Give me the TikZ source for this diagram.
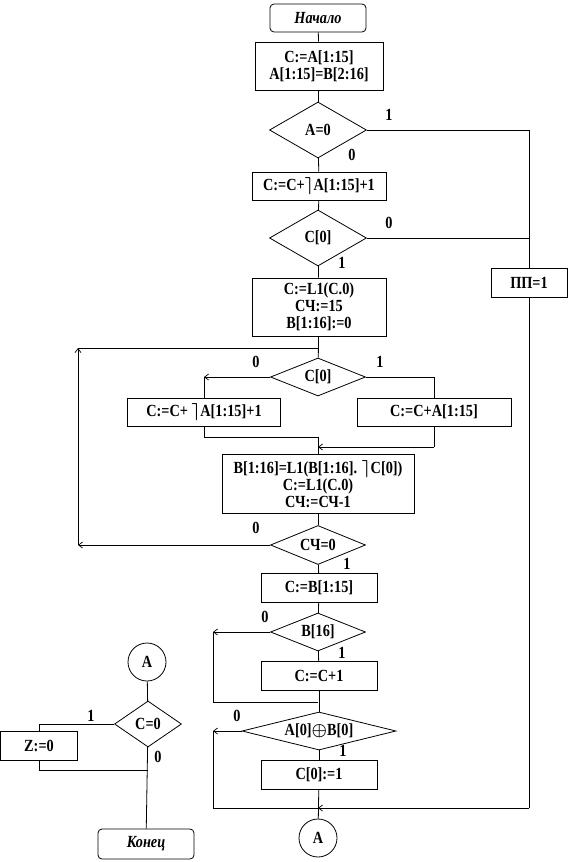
\documentclass[tikz,border=0pt]{standalone}
\usepackage{amsmath}
\usepackage{fontspec}
\setmainfont{Liberation Serif}[FakeStretch=0.84]
\usetikzlibrary{shapes.geometric,arrows.meta}
\begin{document}
\begin{tikzpicture}[x=1pt,y=-1pt,line width=0.8pt,
  every node/.style={font=\fontsize{17}{17}\selectfont\bfseries,inner sep=0pt},
  blk/.style={draw,rectangle,align=center},
  term/.style={draw,rectangle,rounded corners=4pt,font=\fontsize{17}{17}\selectfont\bfseries\itshape},
  dec/.style={draw,diamond},
  conn/.style={draw,circle,minimum size=38pt},
  lbl/.style={font=\fontsize{17}{17}\selectfont\bfseries},
  arr/.style={-{Straight Barb[length=4pt,width=6pt,line width=0.7pt]}}]
\useasboundingbox (0,0) rectangle (571,862);
% nodes
\node[term,minimum width=96pt,minimum height=28pt] (start) at (318,18) {Начало};
\node[blk,minimum width=128pt,minimum height=48pt] (b1) at (319,66) {C:=A[1:15]\\A[1:15]=B[2:16]};
\node[dec,aspect=1.73,minimum width=97pt,minimum height=56pt] (d1) at (318,130) {A=0};
\node[blk,minimum width=134pt,minimum height=28pt] (b2) at (319,186) {C:=C+$\boldsymbol{\rceil}$A[1:15]+1};
\node[dec,aspect=1.73,minimum width=97pt,minimum height=56pt] (d2) at (318,238) {C[0]};
\node[blk,minimum width=76pt,minimum height=29pt] (pp) at (529,283) {ПП=1};
\node[blk,minimum width=134pt,minimum height=58pt] (b3) at (319,307) {C:=L1(C.0)\\СЧ:=15\\B[1:16]:=0};
\node[dec,aspect=2.5,minimum width=95pt,minimum height=38pt] (d3) at (318,377) {C[0]};
\node[blk,minimum width=153pt,minimum height=28pt] (bl) at (204,412) {C:=C+ $\boldsymbol{\rceil}$A[1:15]+1};
\node[blk,minimum width=154pt,minimum height=28pt] (br) at (434,412) {C:=C+A[1:15]};
\node[blk,minimum width=192pt,minimum height=59pt] (b4) at (318,484) {B[1:16]=L1(B[1:16]. $\boldsymbol{\rceil}$C[0])\\C:=L1(C.0)\\СЧ:=СЧ-1};
\node[dec,aspect=2.5,minimum width=95pt,minimum height=39pt] (d4) at (318,545) {СЧ=0};
\node[blk,minimum width=116pt,minimum height=29pt] (b5) at (319,588) {C:=B[1:15]};
\node[dec,aspect=2.5,minimum width=95pt,minimum height=38pt] (d5) at (318,632) {B[16]};
\node[blk,minimum width=116pt,minimum height=29pt] (b6) at (319,676) {C:=C+1};
\node[dec,aspect=4,minimum width=154pt,minimum height=38pt] (d6) at (319,731) {A[0]$\boldsymbol{\oplus}$B[0]};
\node[blk,minimum width=116pt,minimum height=29pt] (b7) at (319,775) {C[0]:=1};
\node[conn] (ca) at (318,838) {A};
\node[conn] (cb) at (147,662) {A};
\node[dec,aspect=1.45,minimum width=67pt,minimum height=46pt] (d7) at (148,724) {C=0};
\node[blk,minimum width=77pt,minimum height=29pt] (bz) at (39,746) {Z:=0};
\node[term,minimum width=96pt,minimum height=30pt] (fin) at (146,844) {Конец};
% junction coordinates
\coordinate (jtop) at (318,348);
\coordinate (lt) at (78,348);
\coordinate (lb) at (78,545);
\coordinate (jl) at (204,437);
\coordinate (jm) at (318,437);
\coordinate (jr) at (434,447);
\coordinate (jm2) at (318,447);
\coordinate (j5) at (318,702);
\coordinate (j5l) at (213,702);
\coordinate (j6) at (318,808);
\coordinate (j6l) at (213,808);
\coordinate (ppb) at (529,808);
\coordinate (j7) at (148,770);
\coordinate (j7l) at (39,770);
% connectors
\draw (start) -- (b1);
\draw (b1) -- (d1);
\draw (d1) -- (b2);
\draw (b2) -- (d2);
\draw (d1.east) -- (pp.north |- d1.east) -- (pp.north);
\draw (d2.east) -- (pp.north |- d2.east);
\draw (d2) -- (b3);
\draw (b3) -- (d3);
\draw[arr] (d3.west) -- (bl.north |- d3.west);
\draw (bl.north |- d3.west) -- (bl.north);
\draw (d3.east) -| (br.north);
\draw (bl.south) -- (jl) -- (jm);
\draw (br.south) -- (jr);
\draw[arr] (jr) -- (jm2);
\draw (jm) -- (b4.north);
\draw (b4) -- (d4);
\draw[arr] (d4.west) -- (lb);
\draw[arr] (lb) -- (lt);
\draw (lt) -- (jtop);
\draw (d4) -- (b5);
\draw (b5) -- (d5);
\draw[arr] (d5.west) -- (d5.west -| j5l);
\draw (d5.west -| j5l) -- (j5l) -- (j5);
\draw (d5) -- (b6);
\draw (b6) -- (d6);
\draw[arr] (d6.west) -- (d6.west -| j6l);
\draw (d6.west -| j6l) -- (j6l) -- (j6);
\draw (d6) -- (b7);
\draw (b7) -- (ca);
\draw (pp.south) -- (ppb);
\draw[arr] (ppb) -- (j6);
\draw (cb) -- (d7);
\draw (d7.west) -| (bz.north);
\draw (bz.south) -- (j7l) -- (j7);
\draw (d7) -- (fin);
% labels
\node[lbl] (l1) at (389,115) {1};
\node[lbl] (l2) at (352,155) {0};
\node[lbl] (l3) at (389,223) {0};
\node[lbl] (l4) at (342,263) {1};
\node[lbl] (l5) at (256,362) {0};
\node[lbl] (l6) at (380,362) {1};
\node[lbl] (l7) at (256,528) {0};
\node[lbl] (l8) at (347,564) {1};
\node[lbl] (l9) at (265,617) {0};
\node[lbl] (l10) at (342,653) {1};
\node[lbl] (l11) at (237,716) {0};
\node[lbl] (l12) at (343,751) {1};
\node[lbl] (l13) at (91,716) {1};
\node[lbl] (l14) at (158,757) {0};
\end{tikzpicture}
\end{document}
